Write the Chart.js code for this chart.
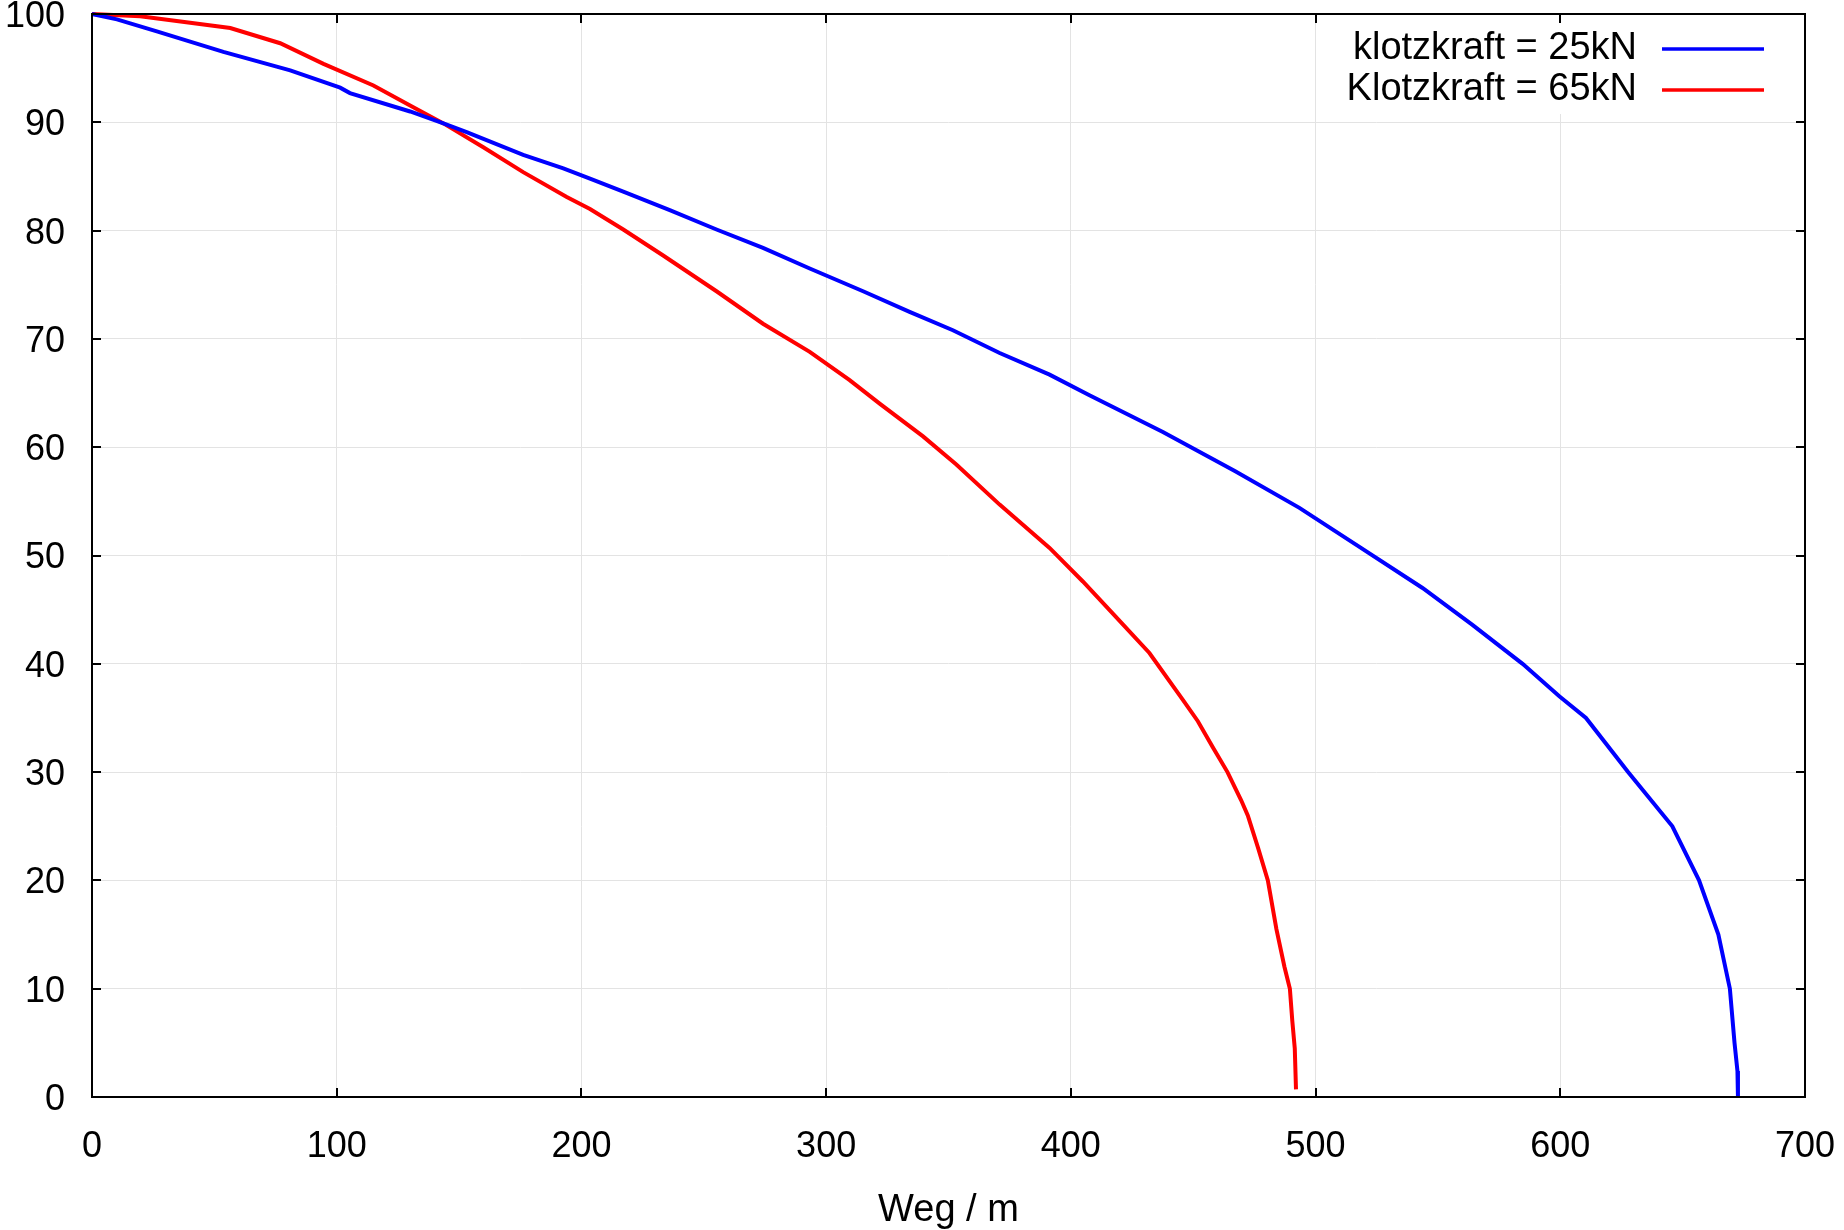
<!DOCTYPE html>
<html>
<head>
<meta charset="utf-8">
<script src="https://cdn.jsdelivr.net/npm/chart.js@4.4.1/dist/chart.umd.min.js"></script>
<style>
  html, body { margin: 0; padding: 0; background: #fff; }
  #wrap { width: 1844px; height: 1230px; }
</style>
</head>
<body>
<div id="wrap"><canvas id="chartWeg"></canvas></div>
<script>
// Klotzkraft 25kN: Weg (m) und Geschwindigkeit
const weg25 = [0, 10.2, 26.5, 53.7, 81, 101.4, 105.4, 130, 143.6, 153.1, 176.2, 192.6, 203.5, 217.1, 236.1, 255.2, 274.2, 293.3, 315.1, 334.1, 351.8, 370.9, 391.3, 407.6, 437.6, 467, 493.4, 516.5, 543.7, 564.1, 584.6, 599.6, 610.5, 627.7, 645.8, 656.7, 664.6, 669.3, 671.2, 672.4, 672.6];
const v25   = [100, 99.5, 98.4, 96.5, 94.8, 93.2, 92.7, 91.0, 89.9, 89.1, 87.0, 85.75, 84.8, 83.6, 81.9, 80.1, 78.4, 76.5, 74.4, 72.5, 70.8, 68.7, 66.7, 64.8, 61.4, 57.8, 54.4, 51.0, 47.0, 43.6, 40.0, 37.0, 35, 30, 25, 20, 15, 10, 5, 2.4, 0];

// Klotzkraft 65kN
const weg65 = [0, 19.7, 40.1, 56.5, 76.9, 94.6, 115, 131.3, 143.6, 159.9, 176.2, 194, 203.5, 217.1, 233.4, 255.2, 274.2, 293.3, 309.6, 322, 339.6, 353.2, 370.9, 391.3, 404.9, 418.5, 432.1, 445.7, 451.9, 458, 464, 469.6, 472.3, 476.5, 480.5, 484, 487.3, 489.5, 490.5, 491.5, 492];
const v65   = [100, 99.8, 99.2, 98.7, 97.3, 95.4, 93.4, 91.4, 89.9, 87.7, 85.4, 83.1, 82.0, 80.1, 77.7, 74.4, 71.4, 68.8, 66.2, 64.0, 61.0, 58.4, 54.7, 50.7, 47.6, 44.3, 41.0, 36.7, 34.7, 32.3, 30, 27.4, 26, 23, 20, 15.5, 12, 10, 7, 4.5, 0.7];

const xTicks = [0, 100, 200, 300, 400, 500, 600, 700];
const yTicks = [0, 10, 20, 30, 40, 50, 60, 70, 80, 90, 100];
const legendLabels = ['klotzkraft = 25kN', 'Klotzkraft = 65kN'];
const farben = ['#0000ff', '#ff0000'];

const FONT = '"Liberation Sans", Arial, sans-serif';
const TICK_SIZE = 36;
const TEXT_SIZE = 38;

function toPoints(xs, ys) {
    return xs.map((x, i) => ({ x: x, y: ys[i] }));
}

// Rahmen + Ticks nach innen (wie gnuplot)
const rahmenPlugin = {
    id: 'rahmen',
    afterDatasetsDraw(chart) {
        const { ctx, chartArea: a, scales } = chart;
        ctx.save();
        ctx.strokeStyle = '#000';
        ctx.lineWidth = 2;
        ctx.beginPath();
        xTicks.forEach(v => {
            const px = Math.round(scales.x.getPixelForValue(v));
            ctx.moveTo(px, a.bottom); ctx.lineTo(px, a.bottom - 9);
            ctx.moveTo(px, a.top); ctx.lineTo(px, a.top + 9);
        });
        yTicks.forEach(v => {
            const py = Math.round(scales.y.getPixelForValue(v));
            ctx.moveTo(a.left, py); ctx.lineTo(a.left + 9, py);
            ctx.moveTo(a.right, py); ctx.lineTo(a.right - 9, py);
        });
        ctx.stroke();
        ctx.strokeRect(a.left, a.top, a.right - a.left, a.bottom - a.top);
        ctx.restore();
    }
};

// Legende oben rechts: Text rechtsbündig, Linie dahinter
const legendePlugin = {
    id: 'legende',
    beforeDatasetsDraw(chart) {
        const { ctx, chartArea: a } = chart;
        ctx.save();
        ctx.fillStyle = '#fff';
        ctx.fillRect(1330, a.top + 1, a.right - 1331, 99);
        ctx.restore();
    },
    afterDraw(chart) {
        const { ctx } = chart;
        ctx.save();
        ctx.font = TEXT_SIZE + 'px ' + FONT;
        ctx.textAlign = 'right';
        ctx.textBaseline = 'middle';
        legendLabels.forEach((txt, i) => {
            const y = 49 + i * 41;
            ctx.fillStyle = '#000';
            ctx.fillText(txt, 1637, y);
            ctx.strokeStyle = farben[i];
            ctx.lineWidth = 3.5;
            ctx.beginPath();
            ctx.moveTo(1662, y);
            ctx.lineTo(1764, y);
            ctx.stroke();
        });
        ctx.restore();
    }
};

const ctx = document.getElementById('chartWeg').getContext('2d');
new Chart(ctx, {
    type: 'scatter',
    data: {
        datasets: [
            {
                label: legendLabels[0],
                data: toPoints(weg25, v25),
                borderColor: farben[0],
                showLine: true,
                borderWidth: 4,
                pointRadius: 0,
                tension: 0,
                clip: false
            },
            {
                label: legendLabels[1],
                data: toPoints(weg65, v65),
                borderColor: farben[1],
                showLine: true,
                borderWidth: 4,
                pointRadius: 0,
                tension: 0,
                clip: false
            }
        ]
    },
    options: {
        responsive: true,
        maintainAspectRatio: false,
        animation: false,
        layout: { padding: { left: 0, top: 14, right: 39, bottom: 0 } },
        plugins: {
            legend: { display: false },
            tooltip: { enabled: false }
        },
        scales: {
            x: {
                type: 'linear',
                min: 0,
                max: 700,
                afterFit(s) { s.height = 133; s.paddingLeft = 0; s.paddingRight = 0; },
                afterBuildTicks(s) { s.ticks = xTicks.map(v => ({ value: v })); },
                border: { display: false },
                grid: { color: '#e3e3e3', lineWidth: 1, drawTicks: false },
                ticks: { padding: 28, color: '#000', font: { family: FONT, size: TICK_SIZE }, maxRotation: 0 },
                title: {
                    display: true,
                    text: 'Weg / m',
                    color: '#000',
                    font: { family: FONT, size: TEXT_SIZE, lineHeight: 1.05 },
                    padding: { top: 0, bottom: 0 }
                }
            },
            y: {
                type: 'linear',
                min: 0,
                max: 100,
                afterFit(s) { s.width = 92; s.paddingTop = 0; s.paddingBottom = 0; },
                afterBuildTicks(s) { s.ticks = yTicks.map(v => ({ value: v })); },
                border: { display: false },
                grid: { color: '#e3e3e3', lineWidth: 1, drawTicks: false },
                ticks: { padding: 27, labelOffset: 3, color: '#000', font: { family: FONT, size: TICK_SIZE } }
            }
        }
    },
    plugins: [legendePlugin, rahmenPlugin]
});
</script>
</body>
</html>
